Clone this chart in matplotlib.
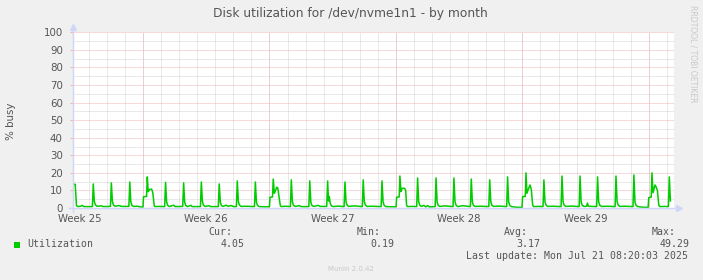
import numpy as np
import matplotlib
matplotlib.use("Agg")
import matplotlib.pyplot as plt

# disk busy trace, (day since left edge, % busy)
week25 = [(0.00, 1.7), (0.05, 13.5), (0.15, 13.5), (0.22, 1.3), (0.30, 0.8), (0.45, 1.0), (0.55, 1.5), (0.62, 0.8), (1.10, 0.8),
          (1.15, 13.7), (1.21, 3.6), (1.27, 1.8), (1.35, 1.0), (1.60, 1.2), (1.70, 0.8), (2.10, 0.9),
          (2.15, 14.3), (2.21, 3.6), (2.27, 1.6), (2.36, 1.0), (2.60, 1.4), (2.70, 0.9), (3.12, 0.9),
          (3.17, 14.8), (3.23, 3.4), (3.29, 1.5), (3.37, 0.9), (3.60, 1.0), (3.75, 0.6), (3.90, 0.6)]
week26 = [(3.93, 6.4), (4.10, 6.6), (4.14, 17.7), (4.19, 9.3), (4.27, 10.6), (4.38, 10.7), (4.44, 9.0), (4.52, 1.5), (4.56, 0.8), (4.80, 0.9), (5.10, 0.8),
          (5.15, 14.6), (5.21, 3.4), (5.27, 1.5), (5.36, 0.8), (5.60, 1.6), (5.68, 0.8), (6.10, 0.9),
          (6.15, 14.3), (6.21, 3.3), (6.27, 1.4), (6.36, 0.8), (6.55, 1.5), (6.62, 0.8), (7.08, 0.8),
          (7.13, 14.8), (7.19, 3.6), (7.25, 1.6), (7.34, 0.9), (7.55, 1.3), (7.65, 0.8), (8.07, 0.8),
          (8.12, 13.7), (8.18, 3.4), (8.24, 1.5), (8.33, 0.9), (8.50, 1.6), (8.60, 1.0), (8.80, 1.4), (8.90, 0.8), (9.07, 0.8),
          (9.12, 15.4), (9.18, 3.6), (9.24, 1.7), (9.33, 0.9), (9.60, 1.0), (10.07, 0.8),
          (10.12, 14.8), (10.18, 3.3), (10.24, 1.5), (10.33, 0.8), (10.60, 0.7), (10.90, 0.7)]
week27 = [(10.93, 6.1), (11.07, 6.3), (11.11, 16.5), (11.17, 8.4), (11.22, 9.5), (11.30, 11.8), (11.36, 11.5), (11.44, 6.0), (11.50, 1.5), (11.55, 0.8), (11.80, 1.0), (12.06, 0.8),
          (12.11, 16.0), (12.17, 3.5), (12.23, 1.6), (12.32, 0.9), (12.55, 1.3), (12.65, 0.8), (13.08, 0.8),
          (13.13, 15.4), (13.19, 3.3), (13.25, 1.5), (13.34, 0.9), (13.60, 1.5), (13.70, 0.9), (14.07, 0.9),
          (14.12, 15.4), (14.17, 4.0), (14.21, 6.5), (14.26, 2.8), (14.33, 1.2), (14.45, 0.8), (14.70, 1.1), (15.03, 0.8),
          (15.08, 14.8), (15.14, 3.5), (15.20, 1.6), (15.29, 0.9), (15.60, 1.2), (16.04, 0.8),
          (16.09, 16.0), (16.15, 3.6), (16.21, 1.7), (16.30, 0.9), (16.60, 1.0), (17.08, 0.8),
          (17.13, 15.4), (17.19, 3.4), (17.25, 1.5), (17.34, 0.8), (17.60, 0.7), (17.91, 0.7)]
week28 = [(17.94, 6.1), (18.08, 6.3), (18.12, 18.2), (18.18, 9.3), (18.24, 11.2), (18.38, 11.2), (18.44, 10.0), (18.49, 1.5), (18.54, 0.8), (18.80, 0.9), (19.05, 0.8),
          (19.10, 17.1), (19.16, 3.5), (19.22, 1.6), (19.31, 0.9), (19.45, 1.5), (19.55, 0.6), (19.65, 1.4), (19.75, 0.6), (20.07, 0.8),
          (20.12, 17.1), (20.18, 3.4), (20.24, 1.5), (20.33, 0.9), (20.60, 1.2), (21.06, 0.8),
          (21.11, 17.1), (21.17, 3.6), (21.23, 1.6), (21.32, 0.8), (21.60, 1.3), (22.02, 0.8),
          (22.07, 16.5), (22.13, 3.4), (22.19, 1.5), (22.28, 0.9), (22.60, 1.0), (23.04, 0.8),
          (23.09, 16.0), (23.15, 3.5), (23.21, 1.6), (23.30, 0.9), (23.60, 1.1), (24.03, 0.8),
          (24.08, 17.7), (24.14, 3.4), (24.20, 1.5), (24.29, 0.8), (24.60, 0.4), (24.88, 0.4)]
week29 = [(24.91, 6.5), (25.06, 6.6), (25.10, 20.0), (25.15, 8.4), (25.24, 11.0), (25.32, 13.1), (25.39, 10.7), (25.47, 1.5), (25.52, 0.8), (25.80, 0.9), (26.04, 0.8),
          (26.09, 16.0), (26.15, 3.5), (26.21, 1.6), (26.30, 0.9), (26.60, 1.0), (27.04, 0.8),
          (27.09, 18.2), (27.15, 3.6), (27.21, 1.7), (27.30, 0.9), (27.60, 1.1), (28.04, 0.8),
          (28.09, 18.2), (28.15, 3.4), (28.21, 1.6), (28.30, 0.9), (28.45, 1.0), (28.50, 2.8), (28.55, 1.0), (29.01, 0.8),
          (29.06, 17.7), (29.12, 3.5), (29.18, 1.6), (29.27, 0.9), (29.60, 1.0), (30.03, 0.8),
          (30.08, 18.2), (30.14, 3.6), (30.20, 1.7), (30.29, 0.9), (30.60, 1.0), (31.02, 0.8),
          (31.07, 18.8), (31.13, 3.4), (31.19, 1.5), (31.28, 0.8), (31.60, 0.4), (31.86, 0.4)]
week30 = [(31.89, 5.9), (32.03, 6.2), (32.07, 20.0), (32.13, 8.7), (32.20, 11.5), (32.24, 13.1), (32.30, 12.0), (32.37, 10.0), (32.45, 1.5), (32.50, 0.8), (32.80, 0.9), (32.98, 0.8),
          (33.03, 17.7), (33.09, 4.05)]

week_labels = ["Week 25", "Week 26", "Week 27", "Week 28", "Week 29"]
legend_name = "Utilization"
stat_names = ["Cur:", "Min:", "Avg:", "Max:"]
stat_values = ["4.05", "0.19", "3.17", "49.29"]

W, H = 703, 280
BG = "#F0F0F0"
FONT = "#555555"
AXIS = "#CFD6F8"
GREEN = "#00CC00"

trace = week25 + week26 + week27 + week28 + week29 + week30
t = [p[0] for p in trace]
v = [p[1] for p in trace]

fig = plt.figure(figsize=(W / 100, H / 100), dpi=100, facecolor=BG)
# plot area in pixels: x 72.5..674, y 32.3..208
ax = fig.add_axes([72.5 / W, 1 - 208 / H, (674 - 72.5) / W, (208 - 32.3) / H])
ax.set_facecolor("white")
xmax = 33.29
ax.set_xlim(0, xmax)
ax.set_ylim(0, 100)

dot = (0, (1, 1))
lw = 0.72
GRID = "#D4D4D4"
MGRID = "#F2B4B4"
# minor grid: every day / every 5 %
for d in np.arange(0.9, xmax, 1.0):
    ax.axvline(d, color=GRID, lw=lw, ls=dot, zorder=1)
for y in range(5, 100, 10):
    ax.axhline(y, color=GRID, lw=lw, ls=dot, zorder=1)
# major grid: week starts / every 10 %
for d in np.arange(3.9, xmax, 7.0):
    ax.axvline(d, color=MGRID, lw=lw, ls=dot, zorder=2)
for y in range(10, 101, 10):
    ax.axhline(y, color=MGRID, lw=lw, ls=dot, zorder=2)

ax.plot(t, v, color=GREEN, lw=1.1, zorder=5)

for s in ax.spines.values():
    s.set_visible(False)

ax.set_yticks(range(0, 101, 10))
ax.tick_params(axis="y", length=2, color=MGRID, pad=5, labelsize=7.4, labelcolor=FONT)
ax.set_xticks([0.4 + 7 * i for i in range(len(week_labels))])
ax.set_xticklabels(week_labels)
ax.tick_params(axis="x", length=0, pad=4, labelsize=7.3, labelcolor=FONT)

# axes with arrows
ax.plot([0, 0], [-0.02, 1.03], color=AXIS, lw=1, transform=ax.transAxes, clip_on=False, zorder=6)
ax.plot([-0.005, 1.0], [0, 0], color=AXIS, lw=1, transform=ax.transAxes, clip_on=False, zorder=6)
ax.plot([0], [1.03], marker="^", ms=4, color=AXIS, transform=ax.transAxes, clip_on=False, zorder=6)
ax.plot([1.008], [0], marker=">", ms=4, color=AXIS, transform=ax.transAxes, clip_on=False, zorder=6)


def fx(px):
    return px / W


def fy(py):
    return 1 - py / H


fig.text(fx(350.5), fy(13), "Disk utilization for /dev/nvme1n1 - by month",
         ha="center", va="center", fontsize=8.8, color=FONT)
fig.text(fx(10.5), fy(121), "% busy", rotation=90, ha="center", va="center",
         fontsize=7.4, color=FONT)
fig.text(fx(693), fy(54), "RRDTOOL / TOBI OETIKER", rotation=270, ha="center", va="center",
         fontsize=5.5, color="#C8C8C8")
fig.text(fx(351), fy(269), "Munin 2.0.42", ha="center", va="center", fontsize=5, color="#C8C8C8")

mono = "DejaVu Sans Mono"
fig.patches.append(plt.Rectangle((fx(14), fy(247.5)), 6 / W, 6 / H, transform=fig.transFigure,
                                 facecolor=GREEN, edgecolor="none"))
fig.text(fx(27), fy(244.3), legend_name, ha="left", va="center", family=mono, fontsize=7.1, color=FONT)
name_right = [232, 380.7, 528.3, 675.7]
val_right = [245, 394.3, 540.7, 689.3]
for n, nr, val, vr in zip(stat_names, name_right, stat_values, val_right):
    fig.text(fx(nr), fy(232.3), n, ha="right", va="center", family=mono, fontsize=7.1, color=FONT)
    fig.text(fx(vr), fy(244.3), val, ha="right", va="center", family=mono, fontsize=7.1, color=FONT)
fig.text(fx(688.5), fy(256), "Last update: Mon Jul 21 08:20:03 2025", ha="right", va="center",
         family=mono, fontsize=7.1, color=FONT)

fig.savefig("out.png", dpi=100, facecolor=BG)
